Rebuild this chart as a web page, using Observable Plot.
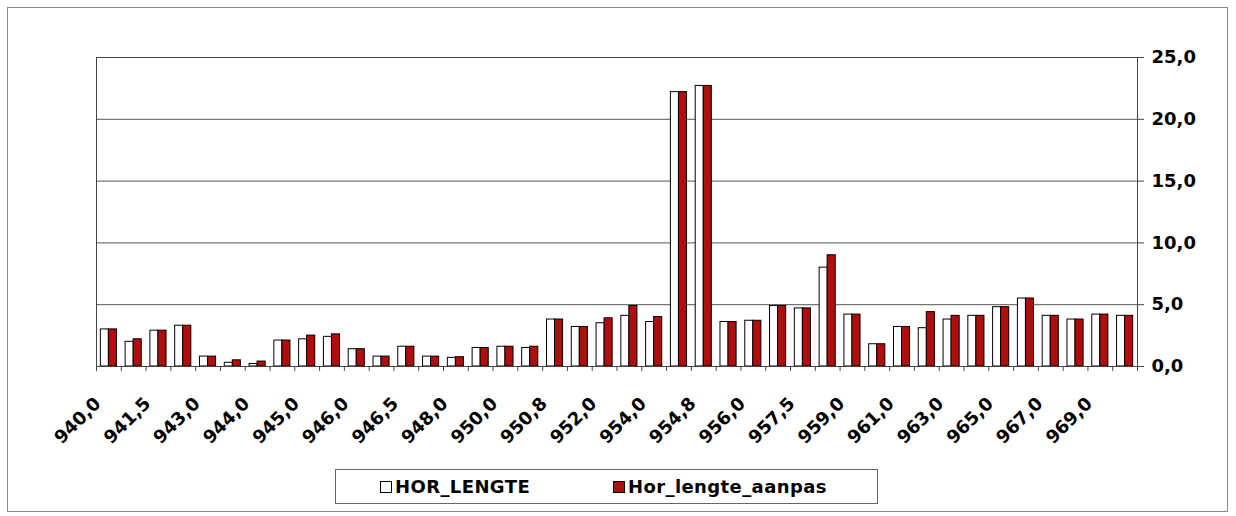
<!DOCTYPE html>
<html>
<head>
<meta charset="utf-8">
<script src="https://cdn.jsdelivr.net/npm/d3@7"></script>
<script src="https://cdn.jsdelivr.net/npm/@observablehq/plot@0.6"></script>
<style>
  html, body { margin: 0; padding: 0; background: #fff; }
  #wrap { position: relative; width: 1236px; height: 516px; font-family: "DejaVu Sans", sans-serif; }
  #border { position: absolute; left: 7px; top: 7px; width: 1221px; height: 505px; border: 1px solid #8a8a8a; box-sizing: border-box; }
  #chart { position: absolute; left: 0; top: 0; }
  #legend { position: absolute; left: 335px; top: 469px; width: 543px; height: 35px; border: 1px solid #666; box-sizing: border-box; font-weight: bold; font-size: 18px; letter-spacing: 0.4px; }
  .item { position: absolute; top: 6px; display: flex; align-items: center; white-space: nowrap; }
  .sw { width: 10px; height: 10px; border: 1px solid #000; margin-right: 3px; }
</style>
</head>
<body>
<div id="wrap">
  <div id="border"></div>
  <div id="chart"></div>
  <div id="legend"></div>
</div>
<script>
// Tick labels shown under every other category
const tickLabels = ["940,0","941,5","943,0","944,0","945,0","946,0","946,5","948,0","950,0","950,8","952,0",
                    "954,0","954,8","956,0","957,5","959,0","961,0","963,0","965,0","967,0","969,0"];
// Category positions (42 categories, labelled every second one)
const categories = d3.range(42);
const seriesNames = ["HOR_LENGTE", "Hor_lengte_aanpas"];
const horLengte = [3.0,2.0,2.9,3.3,0.8,0.3,0.2,2.1,2.2,2.4,1.4,0.8,1.6,0.8,0.7,1.5,1.6,1.5,3.8,3.2,3.5,
                   4.1,3.6,22.2,22.7,3.6,3.7,4.9,4.7,8.0,4.2,1.8,3.2,3.1,3.8,4.1,4.8,5.5,4.1,3.8,4.2,4.1];
const horLengteAanpas = [3.0,2.2,2.9,3.3,0.8,0.5,0.4,2.1,2.5,2.6,1.4,0.8,1.6,0.8,0.75,1.5,1.6,1.6,3.8,3.2,3.9,
                   4.9,4.0,22.2,22.7,3.6,3.7,4.9,4.7,9.0,4.2,1.8,3.2,4.4,4.1,4.1,4.8,5.5,4.1,3.8,4.2,4.1];
const yTicks = [0, 5, 10, 15, 20, 25];
const colors = ["#ffffff", "#b00d0d"];

const rows = categories.map(i => ({i, a: horLengte[i], b: horLengteAanpas[i]}));
const labelled = categories.filter(i => i % 2 === 0);

const W = 1236, H = 460, mL = 96, mR = 99, mT = 57, mB = 94;
const step = (W - mL - mR) / categories.length;
const fmt = d => d.toFixed(1).replace(".", ",");

const chart = Plot.plot({
  width: W, height: H,
  marginLeft: mL, marginRight: mR, marginTop: mT, marginBottom: mB,
  style: {fontFamily: "DejaVu Sans", fontWeight: "bold", fontSize: "18px", background: "transparent", color: "#000"},
  x: {type: "band", domain: categories, paddingInner: 0.35, paddingOuter: 0.175, axis: null, label: null},
  y: {domain: [0, 25], axis: null, label: null},
  marks: [
    Plot.gridY(yTicks.slice(1), {stroke: "#555", strokeOpacity: 1, strokeWidth: 1}),
    Plot.barY(rows, {x: "i", y: "a", fill: colors[0], stroke: "#000", strokeWidth: 1, insetRight: 8}),
    Plot.barY(rows, {x: "i", y: "b", fill: colors[1], stroke: "#000", strokeWidth: 1, insetLeft: 8}),
    Plot.frame({stroke: "#444"}),
    Plot.ruleX(categories, {x: d => d, dx: -step / 2, y1: 0, y2: -0.4, stroke: "#444"}),
    Plot.ruleX(categories.slice(-1), {x: d => d, dx: step / 2, y1: 0, y2: -0.4, stroke: "#444"}),
    Plot.axisY({anchor: "right", ticks: yTicks, tickSize: 6, tickPadding: 8, tickFormat: fmt, stroke: "#444", fontSize: 18, label: null}),
    Plot.text(labelled, {x: d => d, y: 0, text: d => tickLabels[d / 2], rotate: -45, textAnchor: "end",
                         dx: -11, dy: 34, fontSize: 18, fontWeight: "bold", fill: "#000"})
  ]
});
document.getElementById("chart").appendChild(chart);

const legend = document.getElementById("legend");
const lx = [44, 277];
seriesNames.forEach((name, k) => {
  const it = document.createElement("div");
  it.className = "item";
  it.style.left = lx[k] + "px";
  const sw = document.createElement("span");
  sw.className = "sw";
  sw.style.background = colors[k];
  const tx = document.createElement("span");
  tx.textContent = name;
  it.appendChild(sw); it.appendChild(tx);
  legend.appendChild(it);
});
</script>
</body>
</html>
